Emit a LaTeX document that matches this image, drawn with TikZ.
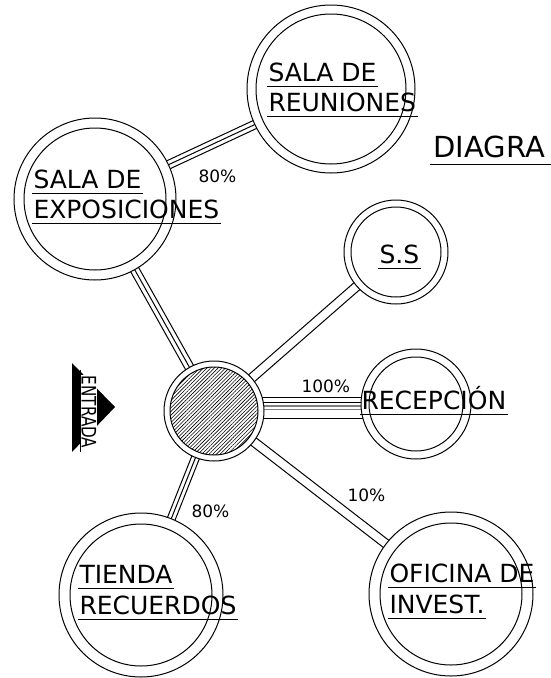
\documentclass[tikz,border=0pt]{standalone}
\usepackage{fontspec}
\setmainfont{DejaVu Sans}
\usetikzlibrary{backgrounds,patterns.meta,calc}
\begin{document}
\begin{tikzpicture}[x=1pt,y=-1pt,line width=1pt,
  room/.style 2 args={circle,draw,fill=white,inner sep=0pt,outer sep=0pt,minimum size=#1,
    path picture={\draw (path picture bounding box.center) circle (#2);}},
  lbl/.style={inner sep=0pt,anchor=base west,font=\fontsize{25}{25}\selectfont},
  pct/.style={inner sep=0pt,anchor=base west,font=\fontsize{17}{17}\selectfont},
  conn/.style={line width=1pt}]
\useasboundingbox (0,0) rectangle (551,678);

% rooms
\node[room={168pt}{75pt}] (reun) at (331,89) {};
\node[room={162pt}{71pt}] (expo) at (95,199) {};
\node[room={104pt}{45pt}] (ss) at (396,252) {};
\node[room={110pt}{47pt}] (recep) at (416,404) {};
\node[room={164pt}{71pt}] (tienda) at (141,595) {};
\node[room={164pt}{71pt}] (ofic) at (451,594) {};
\node[circle,draw,fill=white,inner sep=0pt,outer sep=0pt,minimum size=100pt] (hub) at (214,411) {};
\draw[pattern={Lines[angle=45,distance=2.6pt,line width=0.6pt]}] (hub.center) circle (44pt);

% connectors (parallel lines, hidden inside the white rooms)
\begin{scope}[on background layer]
\foreach \a/\b/\d in {expo/reun/4.3pt, hub/expo/4.5pt, hub/tienda/4pt}{
  \draw[conn] (\a.center) -- (\b.center);
  \draw[conn] ($(\a.center)!\d!90:(\b.center)$) -- ($(\b.center)!\d!-90:(\a.center)$);
  \draw[conn] ($(\a.center)!\d!-90:(\b.center)$) -- ($(\b.center)!\d!90:(\a.center)$);
}
\foreach \a/\b/\d in {hub/ss/4.5pt, hub/ofic/4.5pt}{
  \draw[conn] ($(\a.center)!\d!90:(\b.center)$) -- ($(\b.center)!\d!-90:(\a.center)$);
  \draw[conn] ($(\a.center)!\d!-90:(\b.center)$) -- ($(\b.center)!\d!90:(\a.center)$);
}
\draw[conn] ([yshift=14pt]hub.center) -- ([yshift=14pt]hub.center -| recep.center);
\draw[conn] ([yshift=9pt]hub.center) -- ([yshift=9pt]hub.center -| recep.center);
\draw[conn,gray,line width=1.3pt] ([yshift=5pt]hub.center) -- ([yshift=5pt]hub.center -| recep.center);
\draw[conn,gray] ([yshift=1.5pt]hub.center) -- ([yshift=1.5pt]hub.center -| recep.center);
\draw[conn] ([yshift=-7pt]hub.center) -- ([yshift=-7pt]hub.center -| recep.center);
\end{scope}

% labels
\node[lbl] (reun1) at (268,81) {SALA DE};
\node[lbl] (reun2) at (268,111) {REUNIONES};
\node[lbl] (expo1) at (33,188) {SALA DE};
\node[lbl] (expo2) at (33,218) {EXPOSICIONES};
\node[lbl] (ss1) at (379,263) {S.S};
\node[lbl] (recep1) at (361,409) {RECEPCIÓN};
\node[lbl] (tienda1) at (79,583) {TIENDA};
\node[lbl] (tienda2) at (79,614) {RECUERDOS};
\node[lbl] (ofic1) at (389,582) {OFICINA DE};
\node[lbl] (ofic2) at (389,613) {INVEST.};
\node[lbl,font=\fontsize{29}{29}\selectfont] (title) at (433,157) {DIAGRA};

\foreach \n in {reun1,reun2,expo1,expo2,ss1,recep1,tienda1,tienda2,ofic1,ofic2}
  \draw ([shift={(-1pt,-5.5pt)}]\n.base west) -- ([shift={(1pt,-5.5pt)}]\n.base east);
\draw ([shift={(-3pt,-7pt)}]title.base west) -- (551,164);

\node[pct] (p1) at (198,182) {80\%};
\node[pct] (p2) at (301,392) {100\%};
\node[pct] (p3) at (191,517) {80\%};
\node[pct] (p4) at (347,501) {10\%};

% entrada
\fill (72,363) -- (72,452) -- (115,407) -- cycle;
\node[rotate=-90,fill=white,inner sep=1pt] (entrada) at (89,412)
  {\scalebox{0.76}[1]{\fontsize{20}{20}\selectfont ENTRADA}};
\draw (80,370) -- (80,452);
\end{tikzpicture}
\end{document}
